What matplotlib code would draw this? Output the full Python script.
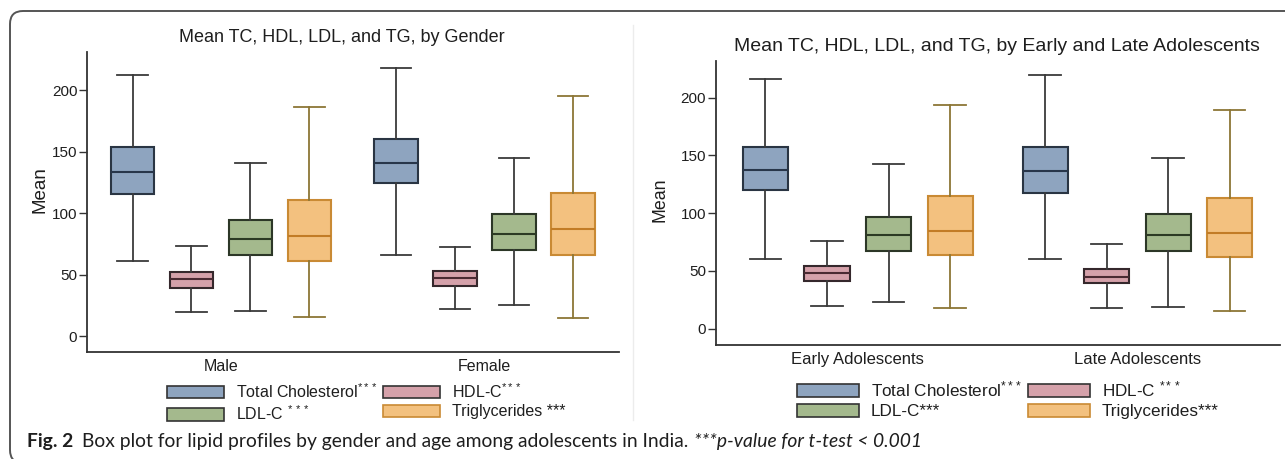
import matplotlib
matplotlib.use("Agg")
import matplotlib.pyplot as plt
from matplotlib.patches import Patch, FancyBboxPatch

plt.rcParams['font.family'] = ['Liberation Sans', 'DejaVu Sans']
plt.rcParams['mathtext.fontset'] = 'custom'
plt.rcParams['mathtext.rm'] = 'Liberation Sans'
plt.rcParams['mathtext.it'] = 'Liberation Sans:italic'

# ---------------- data (whislo, q1, median, q3, whishi) ----------------
gender_groups = ['Male', 'Female']
gender_tc = [[61.0, 115.4, 133.6, 153.7, 212.4], [66.1, 124.1, 140.4, 160.2, 218.1]]
gender_hdl = [[19.3, 39.3, 46.1, 52.3, 73.4], [22.0, 40.9, 46.9, 53.1, 72.4]]
gender_ldl = [[20.3, 65.6, 78.9, 94.6, 140.4], [25.0, 70.2, 82.9, 99.4, 145.0]]
gender_tg = [[15.2, 60.7, 81.3, 110.6, 185.9], [14.4, 65.9, 87.0, 116.5, 195.4]]

age_groups = ['Early Adolescents', 'Late Adolescents']
age_tc = [[60.6, 119.8, 137.7, 157.6, 216.2], [60.6, 117.8, 136.5, 157.6, 219.4]]
age_hdl = [[19.9, 41.6, 48.2, 54.0, 75.7], [17.9, 39.8, 45.0, 51.7, 73.6]]
age_ldl = [[23.1, 67.5, 80.8, 96.7, 142.6], [19.1, 67.5, 80.8, 99.0, 147.8]]
age_tg = [[17.9, 63.8, 84.9, 114.9, 193.4], [15.1, 62.3, 82.6, 112.9, 189.6]]

y_ticks = [0, 50, 100, 150, 200]

left_title = 'Mean TC, HDL, LDL, and TG, by Gender'
right_title = 'Mean TC, HDL, LDL, and TG, by Early and Late Adolescents'

left_labels = ['Total Cholesterol$^{***}$', 'HDL-C$^{***}$', 'LDL-C$^{\\ ***}$', 'Triglycerides ***']
right_labels = ['Total Cholesterol$^{***}$', 'HDL-C $^{***}$', 'LDL-C***', 'Triglycerides***']

caption_bold = 'Fig. 2'
caption_main = 'Box plot for lipid profiles by gender and age among adolescents in India.'
caption_italic = '***p-value for t-test < 0.001'

# ---------------- styles ----------------
fills = ['#8ea4bf', '#d5a1aa', '#a4b98d', '#f3c17f']
edges = ['#2a3543', '#35282c', '#2c3727', '#c98a34']
whisk = ['#3a3a3a', '#3a3a3a', '#3a3a3a', '#8c7636']
meds = ['#28364a', '#4a2a32', '#2c3a24', '#c27c26']

W, H = 1285, 459
fig = plt.figure(figsize=(W / 100, H / 100), dpi=100)

# overlay for frame and caption (pixel coordinates)
ov = fig.add_axes([0, 0, 1, 1], zorder=-1)
ov.set_xlim(0, W)
ov.set_ylim(H, 0)
ov.axis('off')
ov.add_patch(FancyBboxPatch((10, 11), 1320, 452, boxstyle='round,pad=0,rounding_size=13',
                            fc='white', ec='#555555', lw=1.4))
ov.plot([633, 633], [25, 420], color='#ececec', lw=1)

renderer = fig.canvas.get_renderer()
cap_fs = 13.9
x = 27
for txt, kw, gap in [(caption_bold, dict(fontweight='bold'), 9),
                     (caption_main, dict(), 5),
                     (caption_italic, dict(style='italic'), 0)]:
    t = ov.text(x, 447, txt, fontsize=cap_fs, family='Lato', va='baseline', ha='left',
                color='#1e1e1e', **kw)
    bb = t.get_window_extent(renderer=renderer)
    x = x + bb.width + gap


def panel(rect, groups, series, ylim, d, bw, title, title_x, title_y, title_fs,
          labels, leg_center, leg_fs, hlen, xlab_fs, ylab_coords, ylab_fs):
    ax = fig.add_axes(rect)
    for k, data in enumerate(series):
        off = (k - 1.5) * d
        stats = []
        for g, s in enumerate(data):
            stats.append(dict(whislo=s[0], q1=s[1], med=s[2], q3=s[3], whishi=s[4], fliers=[]))
        pos = [g + off for g in range(len(groups))]
        ax.bxp(stats, positions=pos, widths=bw, patch_artist=True, showfliers=False,
               manage_ticks=False,
               boxprops=dict(facecolor=fills[k], edgecolor=edges[k], linewidth=1.5),
               whiskerprops=dict(color=whisk[k], linewidth=1.3),
               capprops=dict(color=whisk[k], linewidth=1.3),
               capwidths=bw * 0.7,
               medianprops=dict(color=meds[k], linewidth=1.5))
    ax.set_xlim(-0.508, 1.51)
    ax.set_ylim(*ylim)
    ax.set_xticks(range(len(groups)))
    ax.set_xticklabels(groups, fontsize=xlab_fs, color='#1e1e1e')
    ax.set_yticks(y_ticks)
    ax.tick_params(axis='y', labelsize=11, length=6, width=1, pad=1, colors='#333333',
                   labelcolor='#1e1e1e')
    ax.tick_params(axis='x', length=0, pad=5)
    for s in ['top', 'right']:
        ax.spines[s].set_visible(False)
    for s in ['left', 'bottom']:
        ax.spines[s].set_color('#333333')
        ax.spines[s].set_linewidth(1.3)
    ax.set_ylabel('Mean', fontsize=ylab_fs, color='#1e1e1e')
    ax.yaxis.set_label_coords(*ylab_coords)
    ax.patch.set_alpha(0)
    fig.text(title_x / W, 1 - title_y / H, title, fontsize=title_fs, ha='center', va='center',
             color='#1e1e1e')
    handles = [Patch(facecolor=fills[i], edgecolor=edges[i] if i == 3 else '#333333', linewidth=1.2)
               for i in range(4)]
    order = [0, 2, 1, 3]
    fig.legend([handles[i] for i in order], [labels[i] for i in order], ncol=2,
               loc='center', bbox_to_anchor=(leg_center[0] / W, 1 - leg_center[1] / H),
               frameon=False, fontsize=leg_fs, handlelength=hlen, handleheight=0.85,
               handletextpad=0.7, columnspacing=0.35, labelspacing=0.25, borderpad=0,
               labelcolor='#1e1e1e')
    return ax


panel([87 / W, 1 - 352 / H, 532 / W, 300 / H], gender_groups,
      [gender_tc, gender_hdl, gender_ldl, gender_tg], (-13.0, 230.9), 0.2235, 0.165,
      left_title, 342, 37, 13.0, left_labels, (366, 402.5), 11.5, 3.6, 11.5,
      (-0.072, 0.54), 13.5)
panel([715.7 / W, 1 - 344.7 / H, 564.3 / W, 284 / H], age_groups,
      [age_tc, age_hdl, age_ldl, age_tg], (-13.85, 232.0), 0.22, 0.161,
      right_title, 997, 46.7, 14.0, right_labels, (1008, 399.5), 12.3, 3.6, 12.0,
      (-0.083, 0.51), 12.8)

fig.savefig('out.png', dpi=100)
